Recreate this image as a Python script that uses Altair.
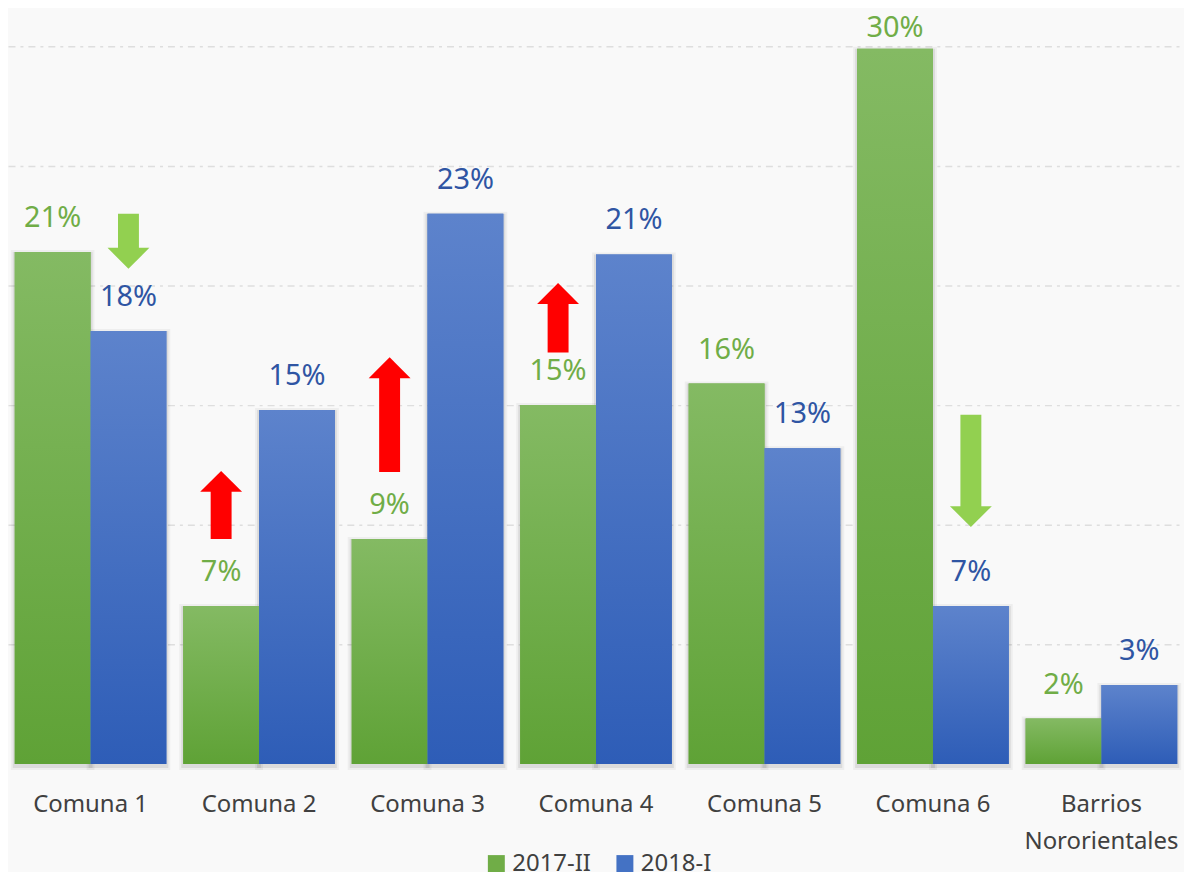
import altair as alt
import pandas as pd

# ---------------- data ----------------
categories = ["Comuna 1", "Comuna 2", "Comuna 3", "Comuna 4", "Comuna 5",
              "Comuna 6", "Barrios Nororientales"]
series_names = ["2017-II", "2018-I"]
values_2017 = [21.4, 6.6, 9.4, 15.0, 15.9, 29.9, 1.9]
values_2018 = [18.1, 14.8, 23.0, 21.3, 13.2, 6.6, 3.3]

arrow_categories = ["Comuna 1", "Comuna 2", "Comuna 3", "Comuna 4", "Comuna 6"]
arrow_series = ["2018-I", "2017-II", "2017-II", "2017-II", "2018-I"]
arrow_tail = [23.0, 9.4, 12.2, 17.2, 14.6]
arrow_tip = [20.7, 12.25, 17.0, 20.1, 9.9]
arrow_dir = ["down", "up", "up", "up", "down"]

rows = []
for c, v1, v2 in zip(categories, values_2017, values_2018):
    rows.append({"category": c, "series": series_names[0], "value": v1})
    rows.append({"category": c, "series": series_names[1], "value": v2})
df = pd.DataFrame(rows)

arrows = pd.DataFrame({
    "category": arrow_categories,
    "series": arrow_series,
    "tail": arrow_tail,
    "tip": arrow_tip,
    "dir": arrow_dir,
})

# ---------------- styles ----------------
FONT = "Noto Sans"
GREEN_TOP, GREEN_BOT = "#84ba63", "#5fa236"
BLUE_TOP, BLUE_BOT = "#5d83cc", "#2e5db7"
GREEN_LABEL, BLUE_LABEL = "#70ad47", "#2f55a3"
HEAD_W = 42
SHAFT_W = 21
Y_MAX = 31.54

x_enc = alt.X("category:N", sort=categories, title=None,
              scale=alt.Scale(paddingInner=0.1, paddingOuter=0.04),
              axis=alt.Axis(labelFontSize=24, labelFont=FONT, labelColor="#404040",
                            ticks=False, domain=False, labelPadding=29,
                            labelAngle=0, labelLimit=400, labelOverlap=False,
                            labelLineHeight=37,
                            labelExpr="indexof(datum.label, 'Barrios') >= 0 ? split(datum.label, ' ') : datum.label"))
xoff = alt.XOffset("series:N", sort=series_names)
y_scale = alt.Scale(domain=[0, Y_MAX], nice=False, zero=True)
y_enc = alt.Y("value:Q", title=None, scale=y_scale,
              axis=alt.Axis(values=[5, 10, 15, 20, 25, 30], labels=False, ticks=False,
                            domain=False, grid=True, gridColor="#dedede",
                            gridDash=[7, 5, 3, 5], gridWidth=1.5))

base = alt.Chart(df)

# soft shadow around the bars (shifted slightly down)
shadow_wide = base.mark_bar(fillOpacity=0, stroke="#000000", strokeOpacity=0.045,
                            strokeWidth=8, yOffset=2).encode(x=x_enc, xOffset=xoff, y=y_enc)
shadow_narrow = base.mark_bar(fillOpacity=0, stroke="#000000", strokeOpacity=0.08,
                              strokeWidth=4, yOffset=2).encode(x=x_enc, xOffset=xoff, y=y_enc)

bars_flat = base.mark_bar().encode(
    x=x_enc, xOffset=xoff, y=y_enc,
    color=alt.Color("series:N", sort=series_names,
                    scale=alt.Scale(domain=series_names, range=["#70ad47", "#4472c4"]),
                    legend=alt.Legend(title=None, orient="none", direction="horizontal",
                                      legendX=478, legendY=845,
                                      symbolType="square", symbolSize=289,
                                      symbolStrokeWidth=0, labelFontSize=24,
                                      labelFont=FONT, labelColor="#404040",
                                      columnPadding=22, symbolOffset=0)),
)


def grad(top, bot):
    return alt.Gradient(gradient="linear",
                        stops=[alt.GradientStop(color=top, offset=0),
                               alt.GradientStop(color=bot, offset=1)],
                        x1=0, x2=0, y1=0, y2=1)


bars_green = base.transform_filter(alt.datum.series == series_names[0]).mark_bar(
    color=grad(GREEN_TOP, GREEN_BOT)).encode(x=x_enc, xOffset=xoff, y=y_enc)
bars_blue = base.transform_filter(alt.datum.series == series_names[1]).mark_bar(
    color=grad(BLUE_TOP, BLUE_BOT)).encode(x=x_enc, xOffset=xoff, y=y_enc)

# labels sit above their bar; the tallest one is kept inside the plot
labels = base.transform_calculate(
    lbl="format(datum.value, '.0f') + '%'",
    ly=f"min(datum.value, {Y_MAX} - 2.2)",
).mark_text(baseline="bottom", dy=-19, fontSize=29, font=FONT).encode(
    x=x_enc, xOffset=xoff, y=alt.Y("ly:Q", scale=y_scale), text="lbl:N",
    color=alt.condition(alt.datum.series == series_names[0],
                        alt.value(GREEN_LABEL), alt.value(BLUE_LABEL)),
)

arr = alt.Chart(arrows)
up = arr.transform_filter(alt.datum.dir == "up")
down = arr.transform_filter(alt.datum.dir == "down")

ax = alt.X("category:N", sort=categories)
axo = alt.XOffset("series:N", sort=series_names)

up_shaft = up.mark_rule(color="#ff0000", strokeWidth=SHAFT_W, y2Offset=HEAD_W / 2 - 1).encode(
    x=ax, xOffset=axo, y=alt.Y("tail:Q"), y2="tip:Q")
up_head = up.mark_point(shape="M-1,1L1,1L0,0Z", filled=True, size=HEAD_W ** 2,
                        color="#ff0000", opacity=1, strokeWidth=0).encode(
    x=ax, xOffset=axo, y=alt.Y("tip:Q"))
down_shaft = down.mark_rule(color="#92d050", strokeWidth=SHAFT_W, y2Offset=-(HEAD_W / 2 - 1)).encode(
    x=ax, xOffset=axo, y=alt.Y("tail:Q"), y2="tip:Q")
down_head = down.mark_point(shape="M-1,-1L1,-1L0,0Z", filled=True, size=HEAD_W ** 2,
                            color="#92d050", opacity=1, strokeWidth=0).encode(
    x=ax, xOffset=axo, y=alt.Y("tip:Q"))

chart = alt.layer(
    shadow_wide, shadow_narrow, bars_flat, bars_green, bars_blue, labels,
    up_shaft, up_head, down_shaft, down_head
).properties(
    width=1180, height=757, background="#f9f9f9", padding=0
).configure_view(stroke=None)

chart.save("out.html", embed_options={"renderer": "svg", "actions": False})
